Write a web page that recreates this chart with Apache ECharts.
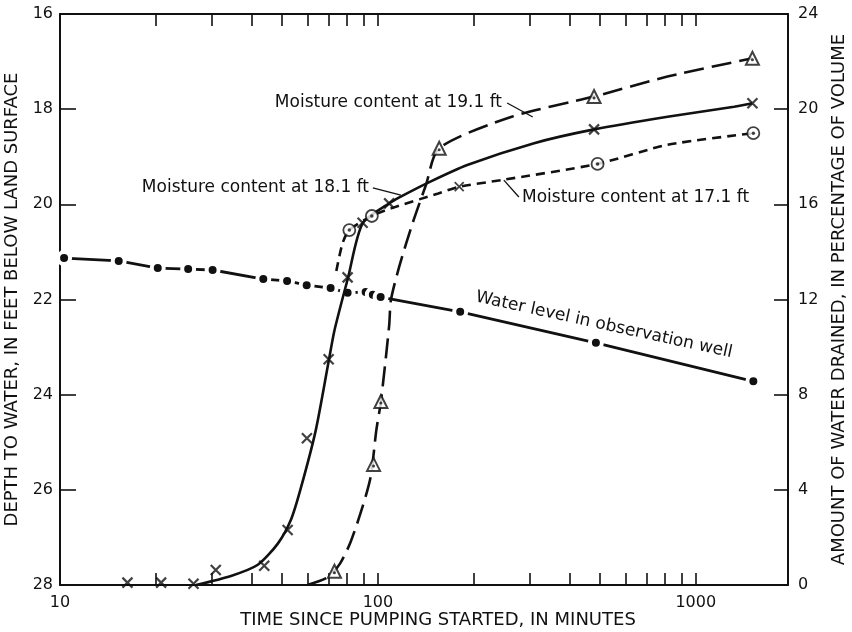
<!DOCTYPE html>
<html>
<head>
<meta charset="utf-8">
<script src="https://cdn.jsdelivr.net/npm/echarts@6/dist/echarts.min.js"></script>
<style>
  html, body { margin: 0; padding: 0; background: #fff; }
  #chart { width: 852px; height: 632px; }
</style>
</head>
<body>
<div id="chart"></div>
<script>
// ---- Axis ticks ----
const timeLabels = [10, 100, 1000];
const timeTicks = [10, 20, 30, 40, 50, 60, 70, 80, 90, 100, 200, 300, 400, 500, 600, 700, 800, 900, 1000];

// ---- Water level in observation well (depth, ft) ----
const wellTime  = [10.3, 15.3, 20.3, 25.3, 30.2, 43.6, 51.8, 59.7, 71.0, 80.3, 91.5, 96.4, 102, 181.5, 485, 1517];
const wellDepth = [21.13, 21.19, 21.34, 21.36, 21.38, 21.57, 21.61, 21.70, 21.76, 21.86, 21.84, 21.90, 21.95, 22.26, 22.91, 23.72];

// ---- Moisture content at 18.1 ft (water drained, percent of volume) ----
const m181Time  = [16.3, 20.8, 26.3, 30.9, 43.9, 52.0, 59.8, 70.0, 80.3, 89.5, 108.5, 478.6, 1507];
const m181Value = [0.1, 0.1, 0.05, 0.63, 0.81, 2.31, 6.17, 9.49, 12.93, 15.23, 16.04, 19.15, 20.25];
const c181Time  = [26.8, 34.5, 41.9, 48.5, 53.3, 57.3, 63.8, 70.0, 73.0, 80.5, 89.5, 108.5, 118, 143, 191, 310, 479, 815, 1320, 1507];
const c181Value = [0, 0.38, 0.85, 1.75, 2.75, 4.1, 6.52, 9.4, 10.7, 12.9, 15.2, 16.04, 16.32, 16.89, 17.65, 18.57, 19.15, 19.68, 20.1, 20.25];

// ---- Moisture content at 19.1 ft ----
const m191Time  = [73.0, 96.9, 102.2, 155.9, 478.6, 1507];
const m191Value = [0.58, 5.07, 7.71, 18.36, 20.53, 22.14];
const c191Time  = [60, 69.5, 76.0, 82.0, 89.5, 94.9, 98.9, 102.2, 108.5, 109.9, 116.7, 128.5, 141.6, 155.9, 265, 478.6, 814.5, 1507];
const c191Value = [0, 0.32, 0.9, 1.8, 3.29, 4.55, 6.52, 7.71, 10.9, 11.98, 13.38, 15.2, 16.81, 18.36, 19.69, 20.53, 21.37, 22.14];

// ---- Moisture content at 17.1 ft ----
const m171Time  = [81.3, 95.7, 490.9, 1517];
const m171Value = [14.92, 15.51, 17.70, 18.99];
const m171CrossTime  = [180.2];
const m171CrossValue = [16.74];
const c171Time  = [74.0, 77.4, 81.3, 95.7, 110, 154.8, 180.2, 245, 490.9, 814.5, 1517];
const c171Value = [13.2, 14.36, 14.92, 15.51, 15.83, 16.46, 16.74, 17.02, 17.70, 18.5, 18.99];

// ---- Leader lines from curve labels (time, percent) ----
const leader191 = [[255, 20.26], [307, 19.67]];
const leader181 = [[96.4, 16.69], [118.1, 16.39]];
const leader171 = [[249, 17.02], [277.6, 16.31]];

const zip = (xs, ys) => xs.map((x, i) => [x, ys[i]]);
const FONT = 'DejaVu Sans';
const INK = '#111';
const crossPath = 'path://M0,0L10,10M10,0L0,10';

function leader(pts) {
  return {
    silent: true,
    symbol: 'none',
    animation: false,
    label: { show: false },
    lineStyle: { color: INK, width: 1.3, type: 'solid' },
    data: [[{ coord: pts[0] }, { coord: pts[1] }]]
  };
}

const xAxisBase = {
  type: 'log',
  logBase: 10,
  min: 10,
  max: 1950,
  splitLine: { show: false },
  axisLine: { show: true, lineStyle: { color: INK, width: 2 } },
  axisTick: { show: true, inside: true, length: 12, customValues: timeTicks, lineStyle: { color: INK, width: 1.6 } }
};

const chart = echarts.init(document.getElementById('chart'), null, { renderer: 'canvas' });

chart.setOption({
  animation: false,
  backgroundColor: '#fff',
  textStyle: { fontFamily: FONT, color: INK },
  grid: { left: 60, right: 64, top: 14, bottom: 47, containLabel: false, outerBoundsMode: 'none' },
  xAxis: [
    Object.assign({}, xAxisBase, {
      position: 'bottom',
      name: 'TIME SINCE PUMPING STARTED, IN MINUTES',
      nameLocation: 'middle',
      nameGap: 26,
      nameMoveOverlap: false,
      nameTextStyle: { fontFamily: FONT, fontSize: 18, color: INK, padding: [0, 0, 0, 28] },
      axisLabel: {
        show: true, customValues: timeLabels, margin: 10,
        fontFamily: FONT, fontSize: 16, color: INK,
        formatter: (v) => String(Math.round(v))
      }
    }),
    Object.assign({}, xAxisBase, {
      position: 'top',
      axisLabel: { show: false }
    })
  ],
  yAxis: [
    {
      type: 'value',
      position: 'left',
      inverse: true,
      min: 16,
      max: 28,
      interval: 2,
      splitLine: { show: false },
      axisLine: { show: true, lineStyle: { color: INK, width: 2 } },
      axisTick: { show: true, inside: true, length: 16, lineStyle: { color: INK, width: 1.6 } },
      axisLabel: { margin: 7, fontFamily: FONT, fontSize: 16, color: INK },
      name: 'DEPTH TO WATER, IN FEET BELOW LAND SURFACE',
      nameLocation: 'middle',
      nameRotate: 90,
      nameGap: 38,
      nameTextStyle: { fontFamily: FONT, fontSize: 18, color: INK }
    },
    {
      type: 'value',
      position: 'right',
      min: 0,
      max: 24,
      interval: 4,
      splitLine: { show: false },
      axisLine: { show: true, lineStyle: { color: INK, width: 2 } },
      axisTick: { show: true, inside: true, length: 14, lineStyle: { color: INK, width: 1.6 } },
      axisLabel: { margin: 10, fontFamily: FONT, fontSize: 16, color: INK },
      name: 'AMOUNT OF WATER DRAINED, IN PERCENTAGE OF VOLUME',
      nameLocation: 'middle',
      nameRotate: 90,
      nameGap: 42,
      nameTextStyle: { fontFamily: FONT, fontSize: 18, color: INK }
    }
  ],
  series: [
    {
      name: 'Water level in observation well',
      type: 'line',
      xAxisIndex: 0,
      yAxisIndex: 0,
      z: 2,
      data: zip(wellTime, wellDepth),
      symbol: 'circle',
      symbolSize: 12,
      itemStyle: { color: INK, borderColor: '#fff', borderWidth: 4 },
      lineStyle: { color: INK, width: 2.8 }
    },
    {
      name: 'Moisture content at 18.1 ft',
      type: 'line',
      yAxisIndex: 1,
      z: 3,
      smooth: 0.25,
      showSymbol: false,
      data: zip(c181Time, c181Value),
      lineStyle: { color: INK, width: 2.6, type: 'solid' },
      markLine: leader(leader181)
    },
    {
      name: 'Moisture content at 19.1 ft',
      type: 'line',
      yAxisIndex: 1,
      z: 3,
      smooth: 0.25,
      showSymbol: false,
      data: zip(c191Time, c191Value),
      lineStyle: { color: INK, width: 2.6, type: [20, 8] },
      markLine: leader(leader191)
    },
    {
      name: 'Moisture content at 17.1 ft',
      type: 'line',
      yAxisIndex: 1,
      z: 3,
      smooth: 0.25,
      showSymbol: false,
      data: zip(c171Time, c171Value),
      lineStyle: { color: INK, width: 2.6, type: [9, 6] },
      markLine: leader(leader171)
    },
    {
      name: '18.1 ft readings',
      type: 'scatter',
      yAxisIndex: 1,
      z: 5,
      data: zip(m181Time, m181Value),
      symbol: crossPath,
      symbolSize: 10,
      itemStyle: { color: 'transparent', borderColor: INK, borderWidth: 2.2 }
    },
    {
      name: '19.1 ft readings',
      type: 'scatter',
      yAxisIndex: 1,
      z: 5,
      data: zip(m191Time, m191Value),
      symbol: 'triangle',
      symbolSize: 13,
      itemStyle: { color: '#fff', borderColor: INK, borderWidth: 2 }
    },
    {
      name: '19.1 ft readings (centre)',
      type: 'scatter',
      yAxisIndex: 1,
      z: 6,
      data: zip(m191Time, m191Value),
      symbol: 'circle',
      symbolSize: 3,
      symbolOffset: [0, 1.5],
      itemStyle: { color: INK }
    },
    {
      name: '17.1 ft readings',
      type: 'scatter',
      yAxisIndex: 1,
      z: 5,
      data: zip(m171Time, m171Value),
      symbol: 'circle',
      symbolSize: 12,
      itemStyle: { color: '#fff', borderColor: INK, borderWidth: 1.8 }
    },
    {
      name: '17.1 ft readings (centre)',
      type: 'scatter',
      yAxisIndex: 1,
      z: 6,
      data: zip(m171Time, m171Value),
      symbol: 'circle',
      symbolSize: 3.5,
      itemStyle: { color: INK }
    },
    {
      name: '17.1 ft reading (cross)',
      type: 'scatter',
      yAxisIndex: 1,
      z: 5,
      data: zip(m171CrossTime, m171CrossValue),
      symbol: crossPath,
      symbolSize: 9,
      itemStyle: { color: 'transparent', borderColor: INK, borderWidth: 1.8 }
    }
  ],
  graphic: [
    {
      type: 'text', x: 502, y: 103, z: 10,
      style: { text: 'Moisture content at 19.1 ft', font: '17px "DejaVu Sans"', fill: INK, align: 'right', verticalAlign: 'middle' }
    },
    {
      type: 'text', x: 369, y: 188, z: 10,
      style: { text: 'Moisture content at 18.1 ft', font: '17px "DejaVu Sans"', fill: INK, align: 'right', verticalAlign: 'middle' }
    },
    {
      type: 'text', x: 522, y: 198, z: 10,
      style: { text: 'Moisture content at 17.1 ft', font: '17px "DejaVu Sans"', fill: INK, align: 'left', verticalAlign: 'middle' }
    },
    {
      type: 'text', x: 604, y: 325, z: 10, rotation: -0.215,
      style: { text: 'Water level in observation well', font: '17px "DejaVu Sans"', fill: INK, align: 'center', verticalAlign: 'middle' }
    }
  ]
});
</script>
</body>
</html>
